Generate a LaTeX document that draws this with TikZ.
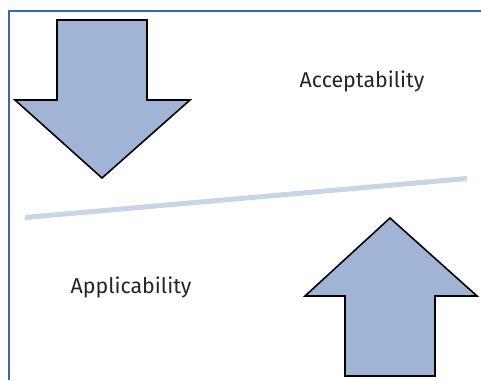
\documentclass[tikz,border=0pt]{standalone}
\usepackage{fontspec}
\setmainfont{Fira Sans}
\definecolor{arrowfill}{RGB}{160,181,213}
\definecolor{framecol}{RGB}{52,108,168}
\definecolor{linecol}{RGB}{200,213,232}
\tikzset{
  bigarrow/.style={draw=black, fill=arrowfill, line width=1.6pt, line join=miter},
  label/.style={font=\fontsize{21.4}{25}\selectfont, text=black!85}
}
\begin{document}
\begin{tikzpicture}[x=1pt, y=-1pt]
  \useasboundingbox (0, 0) rectangle (481, 380);
  \fill[white] (0, 0) rectangle (481, 380);
  \draw[framecol, line width=2pt] (9, 380) -- (9, 10.5) -- (481, 10.5);
  \draw[bigarrow] (57, 20) -- (147, 20) -- (147, 100) -- (190, 100) -- (102, 178) -- (15, 100) -- (57, 100) -- cycle;
  \draw[bigarrow] (345, 376) -- (435, 376) -- (435, 296) -- (477, 296) -- (390, 218) -- (305, 296) -- (345, 296) -- cycle;
  \draw[linecol, line width=5pt] (25, 217.5) -- (467, 178.5);
  \node[label] (accept) at (362, 81) {Acceptability};
  \node[label] (apply) at (131, 287) {Applicability};
\end{tikzpicture}
\end{document}
